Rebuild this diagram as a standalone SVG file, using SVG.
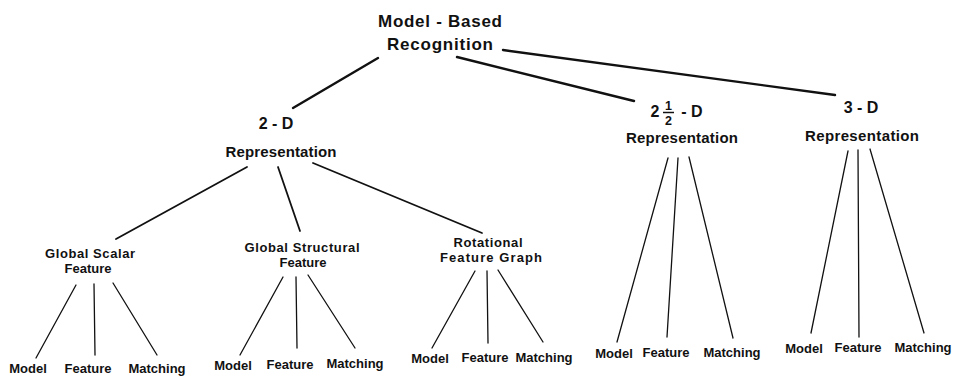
<svg xmlns="http://www.w3.org/2000/svg" width="955" height="377" viewBox="0 0 955 377">
<style>
text{font-family:"Liberation Sans",Arial,sans-serif;font-weight:bold;fill:#111;text-anchor:middle}
.t1{font-size:17px}
.t2{font-size:16px}
.rep{font-size:15px}
.mid{font-size:13px}
.leaf{font-size:13px}
.frac{font-size:12.5px}
.c line{stroke:#111;stroke-linecap:round;fill:none}
.c .w1{stroke-width:2.4}
.c .w2{stroke-width:1.8}
.c .w3{stroke-width:1.3}
</style>
<rect width="955" height="377" fill="#fff"/>
<g id="connectors" class="c">
<line class="w1" x1="378" y1="58" x2="293" y2="108"/>
<line class="w1" x1="457" y1="57" x2="634" y2="101"/>
<line class="w1" x1="503" y1="50" x2="835" y2="95"/>
<line class="w2" x1="247" y1="167" x2="116" y2="239"/>
<line class="w2" x1="278" y1="167" x2="300" y2="231"/>
<line class="w2" x1="313" y1="163" x2="482" y2="233"/>
<line class="w3" x1="76" y1="285" x2="36" y2="358"/>
<line class="w3" x1="94" y1="284" x2="95" y2="355"/>
<line class="w3" x1="113" y1="283" x2="157" y2="355"/>
<line class="w3" x1="283" y1="277" x2="240" y2="355"/>
<line class="w3" x1="296" y1="277" x2="297" y2="348"/>
<line class="w3" x1="308" y1="275" x2="355" y2="348"/>
<line class="w3" x1="475" y1="271" x2="432" y2="348"/>
<line class="w3" x1="487" y1="271" x2="488" y2="343"/>
<line class="w3" x1="498" y1="270" x2="543" y2="342"/>
<line class="w3" x1="668" y1="158" x2="617" y2="342"/>
<line class="w3" x1="678" y1="158" x2="667" y2="337"/>
<line class="w3" x1="689" y1="157" x2="733" y2="338"/>
<line class="w3" x1="848" y1="151" x2="811" y2="333"/>
<line class="w3" x1="858" y1="150" x2="859" y2="337"/>
<line class="w3" x1="870" y1="149" x2="924" y2="333"/>
</g>
<g id="root">
<text class="t1" x="440" y="27" textLength="124" lengthAdjust="spacing">Model - Based</text>
<text class="t1" x="440" y="50" textLength="106" lengthAdjust="spacing">Recognition</text>
</g>
<g id="rep2d">
<text class="t2" x="276" y="129">2 - D</text>
<text class="rep" x="281" y="157" textLength="111" lengthAdjust="spacing">Representation</text>
</g>
<g id="rep25d">
<text class="t2" x="655" y="117">2</text>
<text class="frac" x="668.5" y="110">1</text>
<line x1="663" y1="112.5" x2="674" y2="112.5" stroke="#111" stroke-width="1.5"/>
<text class="frac" x="668.5" y="125">2</text>
<text class="t2" x="692" y="117">- D</text>
<text class="rep" x="682" y="143" textLength="112" lengthAdjust="spacing">Representation</text>
</g>
<g id="rep3d">
<text class="t2" x="861" y="113">3 - D</text>
<text class="rep" x="862" y="141" textLength="114" lengthAdjust="spacing">Representation</text>
</g>
<g id="globalScalar">
<text class="mid" x="90" y="258" textLength="90" lengthAdjust="spacing">Global Scalar</text>
<text class="mid" x="88" y="273">Feature</text>
</g>
<g id="globalStructural">
<text class="mid" x="302" y="252" textLength="115" lengthAdjust="spacing">Global Structural</text>
<text class="mid" x="303" y="267">Feature</text>
</g>
<g id="rotational">
<text class="mid" x="488" y="247" textLength="69" lengthAdjust="spacing">Rotational</text>
<text class="mid" x="491" y="262" textLength="102" lengthAdjust="spacing">Feature Graph</text>
</g>
<g id="leaves1">
<text class="leaf" x="28" y="373">Model</text>
<text class="leaf" x="88" y="373">Feature</text>
<text class="leaf" x="157" y="373">Matching</text>
</g>
<g id="leaves2">
<text class="leaf" x="233" y="370">Model</text>
<text class="leaf" x="290" y="369">Feature</text>
<text class="leaf" x="355" y="368">Matching</text>
</g>
<g id="leaves3">
<text class="leaf" x="430" y="363">Model</text>
<text class="leaf" x="485" y="362">Feature</text>
<text class="leaf" x="544" y="362">Matching</text>
</g>
<g id="leaves25d">
<text class="leaf" x="614" y="358">Model</text>
<text class="leaf" x="666" y="357">Feature</text>
<text class="leaf" x="732" y="357">Matching</text>
</g>
<g id="leaves3d">
<text class="leaf" x="804" y="353">Model</text>
<text class="leaf" x="858" y="352">Feature</text>
<text class="leaf" x="923" y="352">Matching</text>
</g>
</svg>
